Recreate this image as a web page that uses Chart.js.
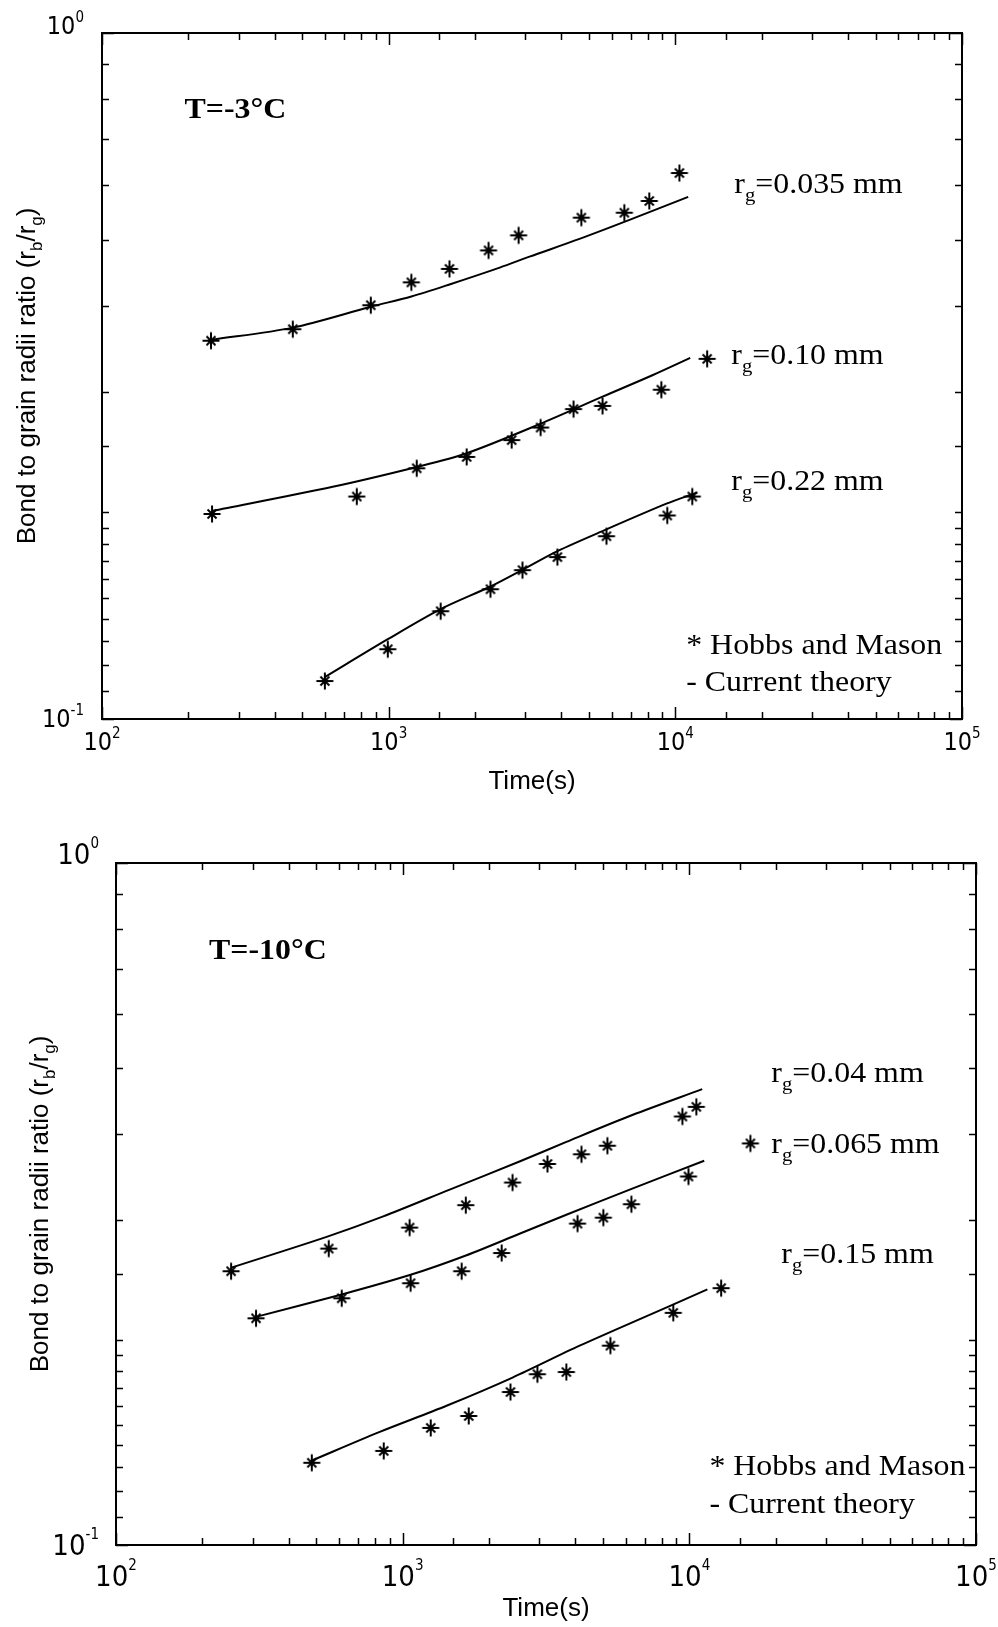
<!DOCTYPE html>
<html>
<head>
<meta charset="utf-8">
<script src="https://cdn.jsdelivr.net/npm/chart.js@4.4.0/dist/chart.umd.min.js"></script>
<style>
  html, body { margin: 0; padding: 0; background: #fff; }
  body { width: 998px; height: 1627px; position: relative; overflow: hidden; }
  .panel { position: absolute; left: 0; width: 998px; }
  #top-panel { top: 0; height: 810px; }
  #bottom-panel { top: 810px; height: 817px; }
</style>
</head>
<body>
<div class="panel" id="top-panel"><canvas id="chart-top"></canvas></div>
<div class="panel" id="bottom-panel"><canvas id="chart-bottom"></canvas></div>
<script>
// axis decades and their exponent labels
const timeTicks = [100, 1000, 10000, 100000];
const timeTickExps = ["2", "3", "4", "5"];
const ratioTicks = [0.1, 1];
const ratioTickExps = ["-1", "0"];

// T = -3 C, Hobbs and Mason points
const m3_035_time = [240, 463, 866, 1200, 1630, 2230, 2840, 4700, 6640, 8110, 10330];
const m3_035_ratio = [0.356, 0.370, 0.401, 0.433, 0.453, 0.482, 0.507, 0.538, 0.547, 0.569, 0.625];
const m3_10_time = [242, 774, 1253, 1871, 2685, 3388, 4415, 5572, 8939, 12910];
const m3_10_ratio = [0.199, 0.211, 0.232, 0.241, 0.255, 0.266, 0.283, 0.286, 0.302, 0.335];
const m3_22_time = [599, 993, 1518, 2265, 2929, 3879, 5751, 9376, 11460];
const m3_22_ratio = [0.1136, 0.1264, 0.1436, 0.1546, 0.1648, 0.1722, 0.1847, 0.198, 0.211];

// T = -3 C, current theory
const c3_035_time = [240, 463, 866, 1200, 1630, 2440, 3100, 4630, 6920, 11090];
const c3_035_ratio = [0.357, 0.372, 0.399, 0.413, 0.430, 0.455, 0.472, 0.501, 0.534, 0.577];
const c3_10_time = [242, 638, 1253, 1871, 3357, 5572, 8318, 11270];
const c3_10_ratio = [0.201, 0.218, 0.233, 0.244, 0.269, 0.295, 0.317, 0.336];
const c3_22_time = [599, 993, 1518, 2265, 2929, 3879, 5751, 9311, 11940];
const c3_22_ratio = [0.1151, 0.1307, 0.1446, 0.156, 0.165, 0.1757, 0.189, 0.206, 0.214];

// T = -10 C, Hobbs and Mason points
const m10_04_time = [252, 552, 1057, 1660, 2417, 3200, 4205, 5179, 9460, 10580];
const m10_04_ratio = [0.252, 0.272, 0.292, 0.315, 0.340, 0.362, 0.374, 0.385, 0.425, 0.439];
const m10_065_time = [308, 613, 1066, 1606, 2215, 4074, 5012, 6281, 9931, 16330];
const m10_065_ratio = [0.215, 0.230, 0.242, 0.252, 0.268, 0.296, 0.302, 0.316, 0.347, 0.388];
const m10_15_time = [482, 859, 1253, 1700, 2377, 2951, 3724, 5305, 8790, 12910];
const m10_15_ratio = [0.132, 0.1374, 0.1485, 0.1546, 0.1676, 0.178, 0.1793, 0.196, 0.219, 0.238];

// T = -10 C, current theory
const c10_04_time = [252, 543, 851, 1459, 2556, 3724, 6323, 11090];
const c10_04_ratio = [0.255, 0.283, 0.303, 0.332, 0.365, 0.390, 0.427, 0.466];
const c10_065_time = [308, 613, 1066, 1671, 2556, 3724, 6323, 11270];
const c10_065_ratio = [0.216, 0.233, 0.249, 0.266, 0.286, 0.305, 0.333, 0.366];
const c10_15_time = [482, 832, 1422, 2417, 4142, 8730, 11560];
const c10_15_ratio = [0.133, 0.1465, 0.160, 0.176, 0.196, 0.225, 0.237];

const SERIF = "'Liberation Serif', 'Times New Roman', serif";
const SANS = "'Liberation Sans', Arial, sans-serif";
const NARROW = "'Liberation Sans Narrow', 'DejaVu Sans Condensed', 'Liberation Sans', sans-serif";

function pts(xs, ys) {
  return xs.map((x, i) => ({ x: x, y: ys[i] }));
}

// matlab style '*' marker
function makeStar() {
  const c = document.createElement("canvas");
  c.width = 20;
  c.height = 20;
  const g = c.getContext("2d");
  g.strokeStyle = "#000";
  g.lineWidth = 2;
  g.beginPath();
  g.moveTo(10, 1.5); g.lineTo(10, 18.5);
  g.moveTo(1.5, 10); g.lineTo(18.5, 10);
  g.moveTo(5.5, 5.5); g.lineTo(14.5, 14.5);
  g.moveTo(14.5, 5.5); g.lineTo(5.5, 14.5);
  g.stroke();
  return c;
}
const star = makeStar();

function markers(xs, ys) {
  return { data: pts(xs, ys), showLine: false, pointStyle: star, pointRadius: 10, pointHoverRadius: 10 };
}
function theory(xs, ys) {
  return {
    data: pts(xs, ys), showLine: true, borderColor: "#000", borderWidth: 2,
    pointRadius: 0, pointHoverRadius: 0, tension: 0.3
  };
}

function rg(v) {
  return [{ t: "r" }, { t: "g", sub: true }, { t: "=" + v + " mm" }];
}

function isDecade(v) {
  const l = Math.log10(v);
  return Math.abs(l - Math.round(l)) < 1e-6;
}

function drawParts(ctx, parts, x, y, size, family, bold) {
  let cx = x;
  parts.forEach(p => {
    const small = p.sub || p.sup;
    const s = small ? size * 0.65 : size;
    ctx.font = (bold ? "bold " : "") + s + "px " + family;
    const dy = p.sub ? size * 0.28 : p.sup ? -size * 0.5 : 0;
    ctx.fillText(p.t, cx, y + dy);
    cx += ctx.measureText(p.t).width;
  });
  return cx - x;
}
function measureParts(ctx, parts, size, family, bold) {
  let w = 0;
  parts.forEach(p => {
    const s = p.sub || p.sup ? size * 0.65 : size;
    ctx.font = (bold ? "bold " : "") + s + "px " + family;
    w += ctx.measureText(p.t).width;
  });
  return w;
}

// box, inward ticks on all four sides, decade labels and axis titles
const framePlugin = {
  id: "frame",
  afterDatasetsDraw(chart, args, o) {
    const { ctx, chartArea: a, scales: { x, y } } = chart;
    ctx.save();
    ctx.strokeStyle = "#000";
    ctx.fillStyle = "#000";
    ctx.lineWidth = 1.5;
    ctx.beginPath();
    x.ticks.forEach(t => {
      const px = Math.round(x.getPixelForValue(t.value)) + 0.5;
      const len = isDecade(t.value) ? 12 : 7;
      ctx.moveTo(px, a.bottom); ctx.lineTo(px, a.bottom - len);
      ctx.moveTo(px, a.top); ctx.lineTo(px, a.top + len);
    });
    y.ticks.forEach(t => {
      const py = Math.round(y.getPixelForValue(t.value)) + 0.5;
      const len = isDecade(t.value) ? 12 : 7;
      ctx.moveTo(a.left, py); ctx.lineTo(a.left + len, py);
      ctx.moveTo(a.right, py); ctx.lineTo(a.right - len, py);
    });
    ctx.stroke();
    ctx.lineWidth = 2;
    ctx.strokeRect(a.left, a.top, a.right - a.left, a.bottom - a.top);

    const fs = o.tickSize;
    const es = 15;
    // x decade labels
    timeTicks.forEach((v, i) => {
      const px = x.getPixelForValue(v);
      ctx.font = fs + "px " + NARROW;
      const w1 = ctx.measureText("10").width;
      ctx.font = es + "px " + NARROW;
      const w2 = ctx.measureText(timeTickExps[i]).width;
      const left = px - (w1 + w2) / 2;
      const base = a.bottom + o.xLabelDrop;
      ctx.textBaseline = "alphabetic";
      ctx.textAlign = "left";
      ctx.font = fs + "px " + NARROW;
      ctx.fillText("10", left, base);
      ctx.font = es + "px " + NARROW;
      ctx.fillText(timeTickExps[i], left + w1, base - o.expRise);
    });
    // y decade labels
    ratioTicks.forEach((v, i) => {
      const py = y.getPixelForValue(v);
      ctx.font = es + "px " + NARROW;
      const w2 = ctx.measureText(ratioTickExps[i]).width;
      ctx.font = fs + "px " + NARROW;
      const w1 = ctx.measureText("10").width;
      const right = a.left - o.yLabelGap;
      const base = v === ratioTicks[ratioTicks.length - 1] ? py + 1 : py + o.yMidDrop;
      ctx.textAlign = "left";
      ctx.fillText("10", right - w1 - w2, base);
      ctx.font = es + "px " + NARROW;
      ctx.fillText(ratioTickExps[i], right - w2, base - o.expRise);
    });

    // x title
    ctx.font = o.titleSize + "px " + SANS;
    ctx.textAlign = "center";
    ctx.fillText("Time(s)", (a.left + a.right) / 2, a.bottom + o.xTitleDrop);

    // y title with subscripts
    const yParts = [
      { t: "Bond to grain radii ratio (r" }, { t: "b", sub: true },
      { t: "/r" }, { t: "g", sub: true }, { t: ")" }
    ];
    ctx.textAlign = "left";
    const tw = measureParts(ctx, yParts, o.titleSize, SANS, false);
    ctx.translate(a.left - o.yTitleGap, (a.top + a.bottom) / 2);
    ctx.rotate(-Math.PI / 2);
    drawParts(ctx, yParts, -tw / 2, 0, o.titleSize, SANS, false);
    ctx.restore();
  }
};

// free text placed at data coordinates, serif, a little wide like the scan
const notesPlugin = {
  id: "notes",
  afterDatasetsDraw(chart, args, o) {
    const { ctx, scales: { x, y } } = chart;
    ctx.fillStyle = "#000";
    ctx.textAlign = "left";
    ctx.textBaseline = "alphabetic";
    o.items.forEach(n => {
      ctx.save();
      ctx.translate(x.getPixelForValue(n.x), y.getPixelForValue(n.y));
      ctx.scale(o.stretch, 1);
      drawParts(ctx, n.parts, 0, 0, n.size, SERIF, n.bold);
      ctx.restore();
    });
  }
};

function hiddenAxis(min, max) {
  return {
    type: "logarithmic", min: min, max: max,
    ticks: { display: false }, title: { display: false },
    grid: { display: false, drawTicks: false }, border: { display: false }
  };
}

function makeChart(id, datasets, padding, frameOpts, notes) {
  return new Chart(document.getElementById(id).getContext("2d"), {
    type: "scatter",
    data: { datasets: datasets },
    options: {
      responsive: true,
      maintainAspectRatio: false,
      animation: false,
      devicePixelRatio: 1,
      layout: { padding: padding },
      scales: { x: hiddenAxis(100, 100000), y: hiddenAxis(0.1, 1) },
      plugins: {
        legend: { display: false },
        tooltip: { enabled: false },
        frame: frameOpts,
        notes: { items: notes, stretch: 1.1 }
      }
    },
    plugins: [framePlugin, notesPlugin]
  });
}

makeChart("chart-top", [
  theory(c3_035_time, c3_035_ratio),
  theory(c3_10_time, c3_10_ratio),
  theory(c3_22_time, c3_22_ratio),
  markers(m3_035_time, m3_035_ratio),
  markers(m3_10_time, m3_10_ratio),
  markers(m3_22_time, m3_22_ratio)
], { left: 102, top: 33, right: 36, bottom: 91 },
{ tickSize: 25, expRise: 12, xLabelDrop: 31, yLabelGap: 18, yMidDrop: 8, titleSize: 26, xTitleDrop: 70, yTitleGap: 67 },
[
  { x: 194, y: 0.752, parts: [{ t: "T=-3°C" }], size: 29, bold: true },
  { x: 16060, y: 0.585, parts: rg("0.035"), size: 29 },
  { x: 15670, y: 0.329, parts: rg("0.10"), size: 29 },
  { x: 15670, y: 0.216, parts: rg("0.22"), size: 29 },
  { x: 10910, y: 0.1243, parts: [{ t: "* Hobbs and Mason" }], size: 29 },
  { x: 10910, y: 0.1100, parts: [{ t: "- Current theory" }], size: 29 }
]);

makeChart("chart-bottom", [
  theory(c10_04_time, c10_04_ratio),
  theory(c10_065_time, c10_065_ratio),
  theory(c10_15_time, c10_15_ratio),
  markers(m10_04_time, m10_04_ratio),
  markers(m10_065_time, m10_065_ratio),
  markers(m10_15_time, m10_15_ratio)
], { left: 116, top: 53, right: 22, bottom: 82 },
{ tickSize: 29, expRise: 16, xLabelDrop: 41, yLabelGap: 17, yMidDrop: 10, titleSize: 26, xTitleDrop: 71, yTitleGap: 68 },
[
  { x: 211, y: 0.723, parts: [{ t: "T=-10°C" }], size: 29, bold: true },
  { x: 19320, y: 0.477, parts: rg("0.04"), size: 29 },
  { x: 19320, y: 0.376, parts: rg("0.065"), size: 29 },
  { x: 20940, y: 0.259, parts: rg("0.15"), size: 29 },
  { x: 11750, y: 0.1267, parts: [{ t: "* Hobbs and Mason" }], size: 29 },
  { x: 11750, y: 0.1114, parts: [{ t: "- Current theory" }], size: 29 }
]);
</script>
</body>
</html>
